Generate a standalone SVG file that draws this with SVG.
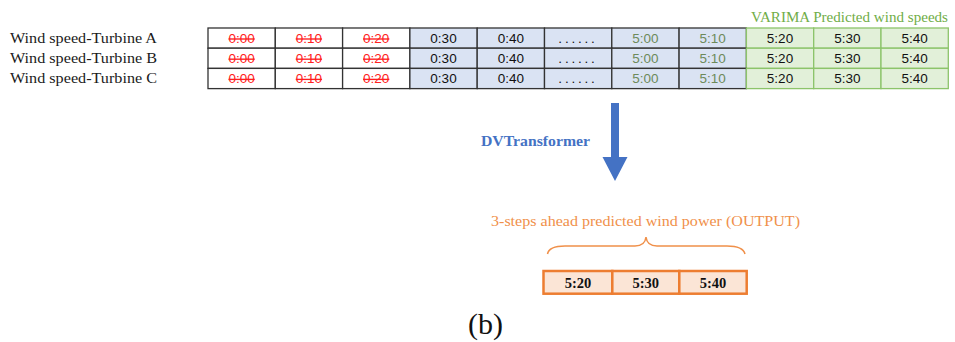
<svg xmlns="http://www.w3.org/2000/svg" width="955" height="342" viewBox="0 0 955 342">
<style>
.lbl{font-family:"Liberation Serif","DejaVu Serif",serif;font-size:14.5px;fill:#1a1a1a}
.c{font-family:"Liberation Sans","DejaVu Sans",sans-serif;font-size:13.5px;text-anchor:middle;fill:#111}
.red{fill:#ff2020;text-decoration:line-through}
.olive{fill:#6d8a5a}
.dots{letter-spacing:2.8px}
.w{fill:#ffffff;stroke:#333;stroke-width:1.3}
.b{fill:#dae3f3;stroke:#333;stroke-width:1.3}
.g{fill:#e2f0d9;stroke:#8cc46a;stroke-width:1.3}
.o{fill:#fbe5d6;stroke:#ed7d31;stroke-width:2.5}
.ob{font-family:"Liberation Serif","DejaVu Serif",serif;font-size:14.5px;font-weight:bold;text-anchor:middle;fill:#111}
</style>
<g id="labels">
<text class="lbl" x="10" y="43" textLength="147" lengthAdjust="spacingAndGlyphs">Wind speed-Turbine A</text>
<text class="lbl" x="10" y="63" textLength="147" lengthAdjust="spacingAndGlyphs">Wind speed-Turbine B</text>
<text class="lbl" x="10" y="83" textLength="147" lengthAdjust="spacingAndGlyphs">Wind speed-Turbine C</text>
</g>
<g id="table">
<g id="row-a">
<rect class="w" x="208" y="28" width="67.3" height="20.2"/>
<rect class="w" x="275.3" y="28" width="67.3" height="20.2"/>
<rect class="w" x="342.6" y="28" width="67.3" height="20.2"/>
<rect class="b" x="409.9" y="28" width="67.3" height="20.2"/>
<rect class="b" x="477.2" y="28" width="67.3" height="20.2"/>
<rect class="b" x="544.5" y="28" width="67.3" height="20.2"/>
<rect class="b" x="611.8" y="28" width="67.3" height="20.2"/>
<rect class="b" x="679.1" y="28" width="67.3" height="20.2"/>
<rect class="g" x="746.4" y="28" width="67.3" height="20.2"/>
<rect class="g" x="813.7" y="28" width="67.3" height="20.2"/>
<rect class="g" x="881" y="28" width="67.3" height="20.2"/>
</g>
<g id="row-b">
<rect class="w" x="208" y="48.2" width="67.3" height="20.2"/>
<rect class="w" x="275.3" y="48.2" width="67.3" height="20.2"/>
<rect class="w" x="342.6" y="48.2" width="67.3" height="20.2"/>
<rect class="b" x="409.9" y="48.2" width="67.3" height="20.2"/>
<rect class="b" x="477.2" y="48.2" width="67.3" height="20.2"/>
<rect class="b" x="544.5" y="48.2" width="67.3" height="20.2"/>
<rect class="b" x="611.8" y="48.2" width="67.3" height="20.2"/>
<rect class="b" x="679.1" y="48.2" width="67.3" height="20.2"/>
<rect class="g" x="746.4" y="48.2" width="67.3" height="20.2"/>
<rect class="g" x="813.7" y="48.2" width="67.3" height="20.2"/>
<rect class="g" x="881" y="48.2" width="67.3" height="20.2"/>
</g>
<g id="row-c">
<rect class="w" x="208" y="68.4" width="67.3" height="20.2"/>
<rect class="w" x="275.3" y="68.4" width="67.3" height="20.2"/>
<rect class="w" x="342.6" y="68.4" width="67.3" height="20.2"/>
<rect class="b" x="409.9" y="68.4" width="67.3" height="20.2"/>
<rect class="b" x="477.2" y="68.4" width="67.3" height="20.2"/>
<rect class="b" x="544.5" y="68.4" width="67.3" height="20.2"/>
<rect class="b" x="611.8" y="68.4" width="67.3" height="20.2"/>
<rect class="b" x="679.1" y="68.4" width="67.3" height="20.2"/>
<rect class="g" x="746.4" y="68.4" width="67.3" height="20.2"/>
<rect class="g" x="813.7" y="68.4" width="67.3" height="20.2"/>
<rect class="g" x="881" y="68.4" width="67.3" height="20.2"/>
</g>
<g id="cells-text">
<text class="c red" x="241.6" y="43">0:00</text><text class="c red" x="308.9" y="43">0:10</text><text class="c red" x="376.2" y="43">0:20</text>
<text class="c" x="443.5" y="43">0:30</text><text class="c" x="510.8" y="43">0:40</text><text class="c dots" x="578" y="43">......</text>
<text class="c olive" x="645.4" y="43">5:00</text><text class="c olive" x="712.7" y="43">5:10</text>
<text class="c" x="780" y="43">5:20</text><text class="c" x="847.3" y="43">5:30</text><text class="c" x="914.6" y="43">5:40</text>
<text class="c red" x="241.6" y="63.2">0:00</text><text class="c red" x="308.9" y="63.2">0:10</text><text class="c red" x="376.2" y="63.2">0:20</text>
<text class="c" x="443.5" y="63.2">0:30</text><text class="c" x="510.8" y="63.2">0:40</text><text class="c dots" x="578" y="63.2">......</text>
<text class="c olive" x="645.4" y="63.2">5:00</text><text class="c olive" x="712.7" y="63.2">5:10</text>
<text class="c" x="780" y="63.2">5:20</text><text class="c" x="847.3" y="63.2">5:30</text><text class="c" x="914.6" y="63.2">5:40</text>
<text class="c red" x="241.6" y="83.4">0:00</text><text class="c red" x="308.9" y="83.4">0:10</text><text class="c red" x="376.2" y="83.4">0:20</text>
<text class="c" x="443.5" y="83.4">0:30</text><text class="c" x="510.8" y="83.4">0:40</text><text class="c dots" x="578" y="83.4">......</text>
<text class="c olive" x="645.4" y="83.4">5:00</text><text class="c olive" x="712.7" y="83.4">5:10</text>
<text class="c" x="780" y="83.4">5:20</text><text class="c" x="847.3" y="83.4">5:30</text><text class="c" x="914.6" y="83.4">5:40</text>
</g>
</g>
<g id="varima-label">
<text x="948" y="22" text-anchor="end" font-family="Liberation Serif, DejaVu Serif, serif" font-size="14.5" fill="#70ad47" textLength="197" lengthAdjust="spacingAndGlyphs">VARIMA Predicted wind speeds</text>
</g>
<g id="connectors">
<polygon points="611,103 619,103 619,157 627.5,157 615,181 602.5,157 611,157" fill="#4472c4"/>
</g>
<g id="dvtransformer">
<text x="481" y="146" font-family="Liberation Serif, DejaVu Serif, serif" font-size="14.5" font-weight="bold" fill="#4472c4" textLength="109" lengthAdjust="spacingAndGlyphs">DVTransformer</text>
</g>
<g id="output">
<text x="491" y="226" font-family="Liberation Serif, DejaVu Serif, serif" font-size="14.5" fill="#f0904a" textLength="309" lengthAdjust="spacingAndGlyphs">3-steps ahead predicted wind power (OUTPUT)</text>
<path d="M547.5,254 Q549,246 565,246 L635,246 Q645,246 646,237 Q647,246 657,246 L727,246 Q743,246 745,254" fill="none" stroke="#f0904a" stroke-width="1.5"/>
<rect class="o" x="543.5" y="271" width="68.8" height="22.7"/>
<rect class="o" x="612.3" y="271" width="67" height="22.7"/>
<rect class="o" x="679.3" y="271" width="67.4" height="22.7"/>
<text class="ob" x="578" y="287.5">5:20</text>
<text class="ob" x="645.8" y="287.5">5:30</text>
<text class="ob" x="713" y="287.5">5:40</text>
</g>
<text x="468" y="334" font-family="Liberation Serif, Times New Roman, serif" font-size="30" fill="#111">(b)</text>
</svg>
